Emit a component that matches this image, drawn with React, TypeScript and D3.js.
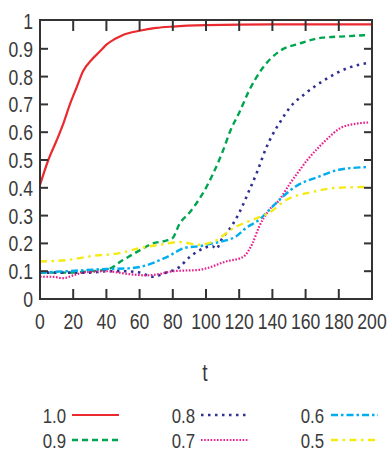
import React from "react";
import * as d3 from "d3";

const tRed = [0, 5, 10, 14, 18, 22, 26, 31, 36, 40, 45, 50, 60, 70, 80, 100, 140, 200];
const vRed = [0.41, 0.5, 0.57, 0.63, 0.7, 0.76, 0.82, 0.86, 0.89, 0.915, 0.935, 0.95, 0.965, 0.975, 0.98, 0.985, 0.988, 0.988];

const tGreen = [0, 10, 20, 30, 40, 50, 60, 68, 76, 80, 84, 90, 96, 100, 105, 110, 115, 120, 126, 134, 144, 157, 170, 185, 198];
const vGreen = [0.095, 0.095, 0.095, 0.1, 0.105, 0.14, 0.175, 0.2, 0.21, 0.22, 0.27, 0.31, 0.36, 0.4, 0.46, 0.53, 0.61, 0.67, 0.75, 0.83, 0.89, 0.92, 0.94, 0.945, 0.95];

const tBlue = [0, 10, 20, 30, 40, 50, 60, 68, 76, 84, 90, 96, 104, 106, 110, 114, 120, 126, 131, 136, 140, 145, 150, 160, 172, 185, 198];
const vBlue = [0.095, 0.095, 0.095, 0.095, 0.1, 0.1, 0.095, 0.08, 0.095, 0.115, 0.15, 0.175, 0.19, 0.18, 0.22, 0.25, 0.31, 0.39, 0.46, 0.54, 0.59, 0.64, 0.685, 0.74, 0.79, 0.83, 0.85];

const tPink = [0, 7, 14, 20, 26, 40, 53, 64, 72, 80, 96, 100, 112, 122, 128, 132, 138, 144, 150, 156, 161, 167, 172, 181, 190, 198];
const vPink = [0.08, 0.08, 0.075, 0.085, 0.095, 0.1, 0.09, 0.085, 0.09, 0.1, 0.105, 0.11, 0.135, 0.15, 0.2, 0.26, 0.32, 0.355, 0.41, 0.46, 0.5, 0.54, 0.57, 0.615, 0.63, 0.635];

const tCyan = [0, 16, 40, 53, 60, 76, 88, 96, 104, 118, 124, 132, 138, 144, 154, 168, 180, 198];
const vCyan = [0.095, 0.1, 0.108, 0.11, 0.115, 0.15, 0.185, 0.19, 0.2, 0.225, 0.255, 0.285, 0.32, 0.355, 0.405, 0.44, 0.465, 0.475];

const tYellow = [0, 16, 32, 48, 60, 72, 84, 96, 104, 118, 128, 138, 148, 164, 179, 198];
const vYellow = [0.135, 0.14, 0.155, 0.165, 0.183, 0.195, 0.205, 0.195, 0.205, 0.26, 0.285, 0.31, 0.355, 0.385, 0.4, 0.403];

const xTicks = [0, 20, 40, 60, 80, 100, 120, 140, 160, 180, 200];
const yTicks = [0, 0.1, 0.2, 0.3, 0.4, 0.5, 0.6, 0.7, 0.8, 0.9, 1];
const yTickLabels = ["0", "0.1", "0.2", "0.3", "0.4", "0.5", "0.6", "0.7", "0.8", "0.9", "1"];

const seriesNames = ["1.0", "0.9", "0.8", "0.7", "0.6", "0.5"];
const seriesT = [tRed, tGreen, tBlue, tPink, tCyan, tYellow];
const seriesV = [vRed, vGreen, vBlue, vPink, vCyan, vYellow];

const styles = [
  { color: "#ea2a2f", width: 2.2, dash: "" },
  { color: "#00a550", width: 2.4, dash: "6,4" },
  { color: "#2e3192", width: 2.6, dash: "2.5,4.5" },
  { color: "#ec1e8c", width: 2.2, dash: "1.6,1.6" },
  { color: "#00aeef", width: 2.4, dash: "7,3,2.5,3" },
  { color: "#f5ea14", width: 2.4, dash: "7,4.5,2.5,4.5" },
];

const FONT = "'Liberation Sans', Arial, sans-serif";
const TEXT = "#3a3a3a";

function NText(props: { x: number; y: number; anchor: string; size: number; children: React.ReactNode }) {
  return (
    <text transform={`translate(${props.x},${props.y}) scale(0.8,1)`} textAnchor={props.anchor}
      fontSize={props.size} fill={TEXT} fontFamily={FONT}>{props.children}</text>
  );
}

export default function App() {
  const W = 390, H = 452;
  const L = 40, R = 372, T = 20, B = 299;
  const x = d3.scaleLinear().domain([0, 200]).range([L, R]);
  const y = d3.scaleLinear().domain([0, 1]).range([B, T + 1]);
  const line = d3.line<[number, number]>().x(d => x(d[0])).y(d => y(d[1])).curve(d3.curveMonotoneX);
  const axisColor = "#333";

  const legendCols = [0, 0, 1, 1, 2, 2];
  const legendRows = [0, 1, 0, 1, 0, 1];
  const colTextX = [66, 195, 324];
  const colLineX = [72, 201, 331];
  const rowY = [415, 440];

  return (
    <svg width={W} height={H} style={{ position: "absolute", left: 0, top: 0 }} fontFamily={FONT}>
      <rect x={0} y={0} width={W} height={H} fill="#fff" />
      {seriesNames.map((n, i) => {
        const pts = seriesT[i].map((t, j) => [t, seriesV[i][j]] as [number, number]);
        const s = styles[i];
        return (
          <path key={n} d={line(pts) || ""} fill="none" stroke={s.color} strokeWidth={s.width}
            strokeDasharray={s.dash || undefined} />
        );
      })}
      <rect x={L} y={T} width={R - L} height={B - T} fill="none" stroke={axisColor} strokeWidth={2} />
      {xTicks.slice(1, -1).map(t => (
        <g key={"xt" + t}>
          <line x1={x(t)} x2={x(t)} y1={B} y2={B - 10} stroke={axisColor} strokeWidth={2} />
          <line x1={x(t)} x2={x(t)} y1={T} y2={T + 11} stroke={axisColor} strokeWidth={2} />
        </g>
      ))}
      {yTicks.slice(1, -1).map(v => (
        <g key={"yt" + v}>
          <line x1={L} x2={L + 8} y1={y(v)} y2={y(v)} stroke={axisColor} strokeWidth={2} />
          <line x1={R} x2={R - 8} y1={y(v)} y2={y(v)} stroke={axisColor} strokeWidth={2} />
        </g>
      ))}
      {xTicks.map(t => (
        <NText key={"xl" + t} x={x(t)} y={329} anchor="middle" size={22}>{t}</NText>
      ))}
      {yTicks.map((v, i) => (
        <NText key={"yl" + v} x={33} y={y(v) + 8} anchor="end" size={22}>{yTickLabels[i]}</NText>
      ))}
      <NText x={205} y={381} anchor="middle" size={24}>t</NText>
      {seriesNames.map((n, i) => {
        const c = legendCols[i], r = legendRows[i];
        const s = styles[i];
        return (
          <g key={"lg" + n}>
            <NText x={colTextX[c]} y={rowY[r] + 8} anchor="end" size={21}>{n}</NText>
            <line x1={colLineX[c]} x2={colLineX[c] + 47} y1={rowY[r]} y2={rowY[r]} stroke={s.color}
              strokeWidth={s.width} strokeDasharray={s.dash || undefined} />
          </g>
        );
      })}
    </svg>
  );
}
